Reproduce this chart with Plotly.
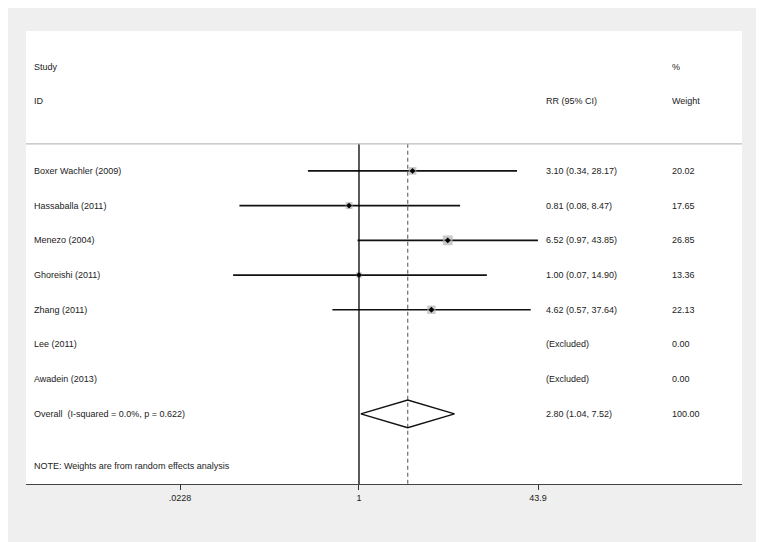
"""Forest plot of risk ratios (Stata metan style) redrawn with plotly."""

import plotly.graph_objects as go

studies = [
    "Boxer Wachler (2009)",
    "Hassaballa (2011)",
    "Menezo (2004)",
    "Ghoreishi (2011)",
    "Zhang (2011)",
    "Lee (2011)",
    "Awadein (2013)",
]
rr = [3.10, 0.81, 6.52, 1.00, 4.62, None, None]
ci_low = [0.34, 0.08, 0.97, 0.07, 0.57, None, None]
ci_high = [28.17, 8.47, 43.85, 14.90, 37.64, None, None]
weights = [20.02, 17.65, 26.85, 13.36, 22.13, 0.00, 0.00]

overall_label = "Overall  (I-squared = 0.0%, p = 0.622)"
overall_rr = 2.80
overall_low = 1.04
overall_high = 7.52
overall_weight = 100.00

note = "NOTE: Weights are from random effects analysis"
tick_vals = [0.0228, 1, 43.9]
tick_text = [".0228", "1", "43.9"]

FONT = "Liberation Sans, Arial, Helvetica, sans-serif"
TXT = "#222222"


def main():
    rows = list(range(1, len(studies) + 1))
    overall_row = len(studies) + 1

    fig = go.Figure()

    # confidence interval lines
    cx, cy = [], []
    for y, lo, hi in zip(rows, ci_low, ci_high):
        if lo is None:
            continue
        cx += [lo, hi, None]
        cy += [y, y, None]
    fig.add_trace(go.Scatter(x=cx, y=cy, mode="lines",
                             line=dict(color="#111111", width=1.7),
                             hoverinfo="skip"))

    # reference lines: null effect and overall estimate
    fig.add_trace(go.Scatter(x=[1, 1], y=[0.22, 10.1], mode="lines",
                             line=dict(color="black", width=1.3),
                             hoverinfo="skip"))
    fig.add_trace(go.Scatter(x=[overall_rr, overall_rr], y=[0.22, 10.1],
                             mode="lines",
                             line=dict(color="#6e6e6e", width=1.2, dash="4px,3px"),
                             hoverinfo="skip"))

    # weight boxes and point estimates
    px_, py_, ps_ = [], [], []
    for y, v, w in zip(rows, rr, weights):
        if v is None:
            continue
        px_.append(v)
        py_.append(y)
        ps_.append(1.5 + w * 0.31)
    fig.add_trace(go.Scatter(x=px_, y=py_, mode="markers",
                             marker=dict(symbol="square", size=ps_,
                                         color="#b4b4b4", line=dict(width=0)),
                             hoverinfo="skip"))
    fig.add_trace(go.Scatter(x=px_, y=py_, mode="markers",
                             marker=dict(symbol="diamond", size=4.5, color="black"),
                             hoverinfo="skip"))

    # pooled diamond
    h = 0.4
    fig.add_trace(go.Scatter(
        x=[overall_low, overall_rr, overall_high, overall_rr, overall_low],
        y=[overall_row, overall_row - h, overall_row, overall_row + h, overall_row],
        mode="lines", line=dict(color="#111111", width=1.5), hoverinfo="skip"))

    # text columns
    col_study, col_rr, col_w = 0.009, 0.723, 0.899

    def label(x, y, text):
        fig.add_annotation(x=x, y=y, xref="paper", yref="y", text=text,
                           showarrow=False, xanchor="left", yanchor="middle",
                           font=dict(family=FONT, size=9, color=TXT))

    label(col_study, -2, "Study")
    label(col_study, -1, "ID")
    label(col_rr, -1, "RR (95% CI)")
    label(col_w, -2, "%")
    label(col_w, -1, "Weight")

    for y, name, v, lo, hi, w in zip(rows, studies, rr, ci_low, ci_high, weights):
        label(col_study, y, name)
        if v is None:
            label(col_rr, y, "(Excluded)")
        else:
            label(col_rr, y, f"{v:.2f} ({lo:.2f}, {hi:.2f})")
        label(col_w, y, f"{w:.2f}")

    label(col_study, overall_row, overall_label)
    label(col_rr, overall_row,
          f"{overall_rr:.2f} ({overall_low:.2f}, {overall_high:.2f})")
    label(col_w, overall_row, f"{overall_weight:.2f}")
    label(col_study, 9.5, note)

    # header separator
    fig.add_shape(type="line", xref="paper", yref="y", x0=0, x1=1,
                  y0=0.22, y1=0.22, line=dict(color="#bdbdbd", width=1.2))

    # page body has an 8px margin, so the margins are shifted to compensate
    fig.update_layout(
        width=764, height=542,
        margin=dict(l=18, r=30, t=23, b=66),
        paper_bgcolor="#efefef", plot_bgcolor="white",
        showlegend=False,
        font=dict(family=FONT, size=9, color=TXT),
        xaxis=dict(type="log", range=[-3.055, 3.514],
                   tickvals=tick_vals, ticktext=tick_text,
                   ticks="outside", ticklen=5, tickcolor="#333",
                   showline=True, linecolor="#444", linewidth=1.2,
                   showgrid=False, zeroline=False,
                   tickfont=dict(family=FONT, size=9, color=TXT)),
        yaxis=dict(range=[10.02, -3.03], visible=False, showgrid=False,
                   zeroline=False),
    )

    fig.write_html("out.html")


if __name__ == "__main__":
    main()
